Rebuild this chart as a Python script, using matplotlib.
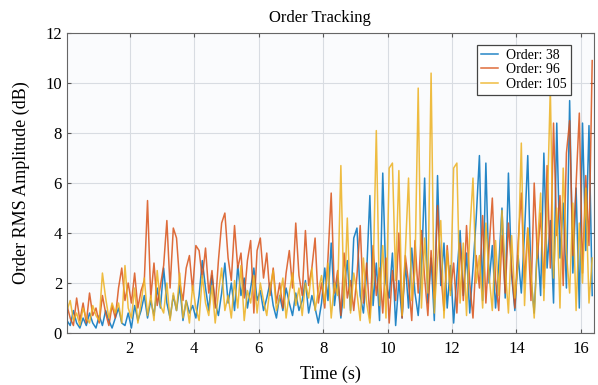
"""
Order tracking of RMS amplitude for three shaft orders over time.

Output:
    out.png
"""

import numpy as np
import matplotlib.pyplot as plt

OUTPUT_FILE = "out.png"

# Sampling of the order track (one value every 0.1 s)
T0 = 0.05
DT = 0.1

# Order RMS amplitude (dB) for each tracked order
order_38 = [
    0.5, 0.3, 0.9, 0.4, 0.2, 0.6, 0.3, 0.8, 0.4, 0.2,
    0.7, 0.3, 0.9, 0.5, 0.2, 0.6, 1.0, 0.4, 0.3, 0.8,
    0.2, 1.1, 0.5, 0.9, 1.5, 0.6, 1.3, 0.7, 1.8, 1.0,
    2.6, 1.2, 0.6, 1.5, 0.9, 1.9, 0.5, 1.3, 0.8, 1.1,
    0.6, 1.5, 2.9, 1.8, 0.9, 2.3, 1.2, 0.7, 1.6, 2.8,
    1.2, 2.0, 0.9, 2.7, 1.5, 2.2, 1.0, 1.8, 2.6, 1.3,
    1.7, 0.9, 1.4, 2.0, 1.1, 0.6, 1.5, 0.9, 1.8, 1.2,
    0.7, 1.6, 0.9, 1.3, 2.1, 0.8, 1.5, 1.0, 0.4, 1.2,
    2.6, 1.3, 3.6, 1.1, 2.2, 0.6, 1.8, 2.9, 0.9, 3.8,
    4.2, 1.5, 0.8, 2.4, 5.5, 1.1, 2.8, 0.5, 6.4, 2.0,
    1.4, 3.2, 0.3, 2.1, 0.6, 2.8, 1.0, 3.4, 1.6, 0.7,
    2.5, 6.2, 1.2, 3.0, 0.5, 6.3, 1.9, 3.6, 1.0, 2.7,
    0.4, 2.3, 4.1, 1.5, 3.2, 0.8, 2.6, 4.6, 7.1, 1.3,
    6.8, 2.0, 3.5, 1.0, 2.7, 5.0, 1.4, 6.4, 2.3, 0.9,
    3.1, 1.6, 4.0, 7.1, 2.2, 0.8, 3.6, 1.5, 7.2, 2.6,
    4.5, 1.2, 8.4, 3.0, 5.2, 1.8, 9.3, 2.4, 5.8, 1.0,
    8.4, 3.3, 8.3, 1.5,
]

order_96 = [
    1.1, 0.6, 0.3, 1.4, 0.5, 1.2, 0.4, 1.6, 0.7, 1.0,
    0.4, 1.5, 0.8, 0.3, 1.1, 0.6, 1.8, 2.6, 1.3, 2.0,
    1.2, 2.4, 1.0, 1.7, 2.1, 5.3, 1.4, 2.8, 1.1, 1.9,
    2.7, 4.5, 1.8, 4.2, 3.8, 2.0, 1.3, 2.6, 3.1, 1.7,
    3.5, 3.3, 2.2, 3.4, 1.6, 2.5, 1.0, 2.9, 4.4, 4.8,
    3.0, 2.1, 4.3, 2.6, 3.2, 1.4, 2.9, 3.7, 0.8, 3.3,
    3.8, 2.2, 3.2, 1.5, 2.6, 1.2, 2.0, 1.0, 2.4, 3.3,
    1.8, 4.4, 2.3, 1.5, 4.1, 1.9, 2.6, 3.8, 1.2, 2.0,
    1.0, 3.0, 5.6, 1.6, 2.5, 0.7, 3.2, 1.4, 2.1, 0.9,
    2.3, 4.3, 1.2, 2.8, 0.6, 3.5, 1.5, 2.6, 0.8, 3.0,
    0.4, 2.5, 1.3, 4.0, 0.6, 3.1, 2.0, 0.5, 3.7, 1.6,
    4.1, 2.2, 0.7, 3.3, 1.4, 5.1, 2.4, 0.9, 3.5, 1.7,
    2.8, 0.8, 3.6, 1.3, 4.3, 2.0, 0.6, 3.1, 1.8, 4.7,
    1.2, 3.4, 5.4, 2.1, 0.9, 3.9, 1.6, 4.4, 2.5, 1.0,
    3.6, 5.6, 2.0, 4.2, 1.3, 6.0, 3.0, 4.8, 1.8, 6.7,
    2.6, 8.4, 3.9, 5.5, 1.9, 7.2, 8.5, 3.1, 6.0, 8.8,
    2.4, 6.3, 3.5, 10.9,
]

order_105 = [
    0.9, 1.3, 0.5, 0.8, 0.3, 1.0, 0.6, 0.4, 1.1, 0.7,
    0.5, 2.4, 1.4, 0.6, 1.2, 0.8, 1.2, 0.4, 2.7, 1.0,
    0.6, 1.8, 0.4, 1.2, 2.2, 0.7, 1.5, 0.5, 2.5, 1.1,
    0.8, 2.0, 0.5, 1.6, 0.9, 2.4, 0.6, 1.3, 0.4, 1.9,
    1.0, 0.5, 2.3, 1.2, 0.7, 1.9, 0.4, 1.6, 2.6, 0.9,
    1.5, 0.6, 2.1, 1.0, 2.7, 0.5, 1.7, 1.2, 2.3, 0.8,
    2.0, 1.3, 0.7, 1.8, 2.5, 0.9, 1.4, 2.2, 0.6, 1.6,
    2.4, 1.1, 1.8, 0.7, 2.0, 1.4, 2.6, 0.9, 1.7, 2.3,
    1.2, 2.8, 0.6, 2.0, 1.5, 6.7, 1.0, 4.6, 0.8, 2.4,
    1.6, 0.5, 3.0, 1.2, 0.4, 2.2, 8.1, 1.1, 3.5, 0.6,
    6.6, 6.8, 2.1, 6.5, 0.7, 3.2, 6.2, 1.3, 2.5, 9.8,
    1.0, 3.8, 1.6, 10.4, 0.8, 2.9, 4.5, 0.6, 3.3, 1.5,
    6.6, 6.8, 1.2, 3.6, 0.7, 4.0, 6.2, 2.0, 3.1, 1.0,
    4.4, 2.3, 0.9, 3.7, 1.5, 4.9, 2.6, 0.8, 3.9, 1.4,
    2.8, 7.6, 1.1, 4.2, 2.4, 0.6, 3.5, 5.6, 1.3, 4.7,
    9.8, 2.2, 5.0, 1.0, 6.6, 3.2, 1.6, 5.2, 0.9, 4.4,
    2.0, 5.8, 1.2, 3.0,
]

orders = [38, 96, 105]
series = [order_38, order_96, order_105]
colors = ["#0072BD", "#D95319", "#EDB120"]

x_ticks = [2, 4, 6, 8, 10, 12, 14, 16]
y_ticks = [0, 2, 4, 6, 8, 10, 12]


def main():
    plt.rcParams["font.family"] = ["Liberation Serif", "DejaVu Serif"]

    fig = plt.figure(figsize=(5.98, 3.85), dpi=100)
    ax = fig.add_axes([0.112, 0.135, 0.881, 0.779])
    ax.set_facecolor("#fafbfd")

    for order, values, color in zip(orders, series, colors):
        t = T0 + DT * np.arange(len(values))
        ax.plot(t, values, color=color, lw=1.1, alpha=0.85,
                label=f"Order: {order}")

    ax.set_xlim(0.05, 16.4)
    ax.set_ylim(0, 12)
    ax.set_xticks(x_ticks)
    ax.set_yticks(y_ticks)
    ax.tick_params(direction="in", top=True, right=True, length=3,
                   labelsize=12, color="#555555", width=0.8)
    ax.tick_params(axis="x", pad=6)
    ax.grid(True, color="#d8dce2", lw=0.8)
    ax.set_axisbelow(True)
    for spine in ax.spines.values():
        spine.set_color("#666666")
        spine.set_linewidth(0.8)

    ax.set_xlabel("Time (s)", fontsize=13, labelpad=6)
    ax.set_ylabel("Order RMS Amplitude (dB)", fontsize=13, labelpad=11)
    ax.set_title("Order Tracking", fontsize=12, pad=8, x=0.48)

    leg = ax.legend(loc="upper right", bbox_to_anchor=(0.965, 0.975),
                    fontsize=10, frameon=True, fancybox=False,
                    handlelength=1.2, handletextpad=0.6, labelspacing=0.1,
                    borderpad=0.3, borderaxespad=0.3)
    leg.get_frame().set_edgecolor("#444444")
    leg.get_frame().set_linewidth(0.9)
    leg.get_frame().set_alpha(1.0)

    fig.savefig(OUTPUT_FILE, dpi=100)
    print(f"Saved to {OUTPUT_FILE}")


if __name__ == "__main__":
    main()
